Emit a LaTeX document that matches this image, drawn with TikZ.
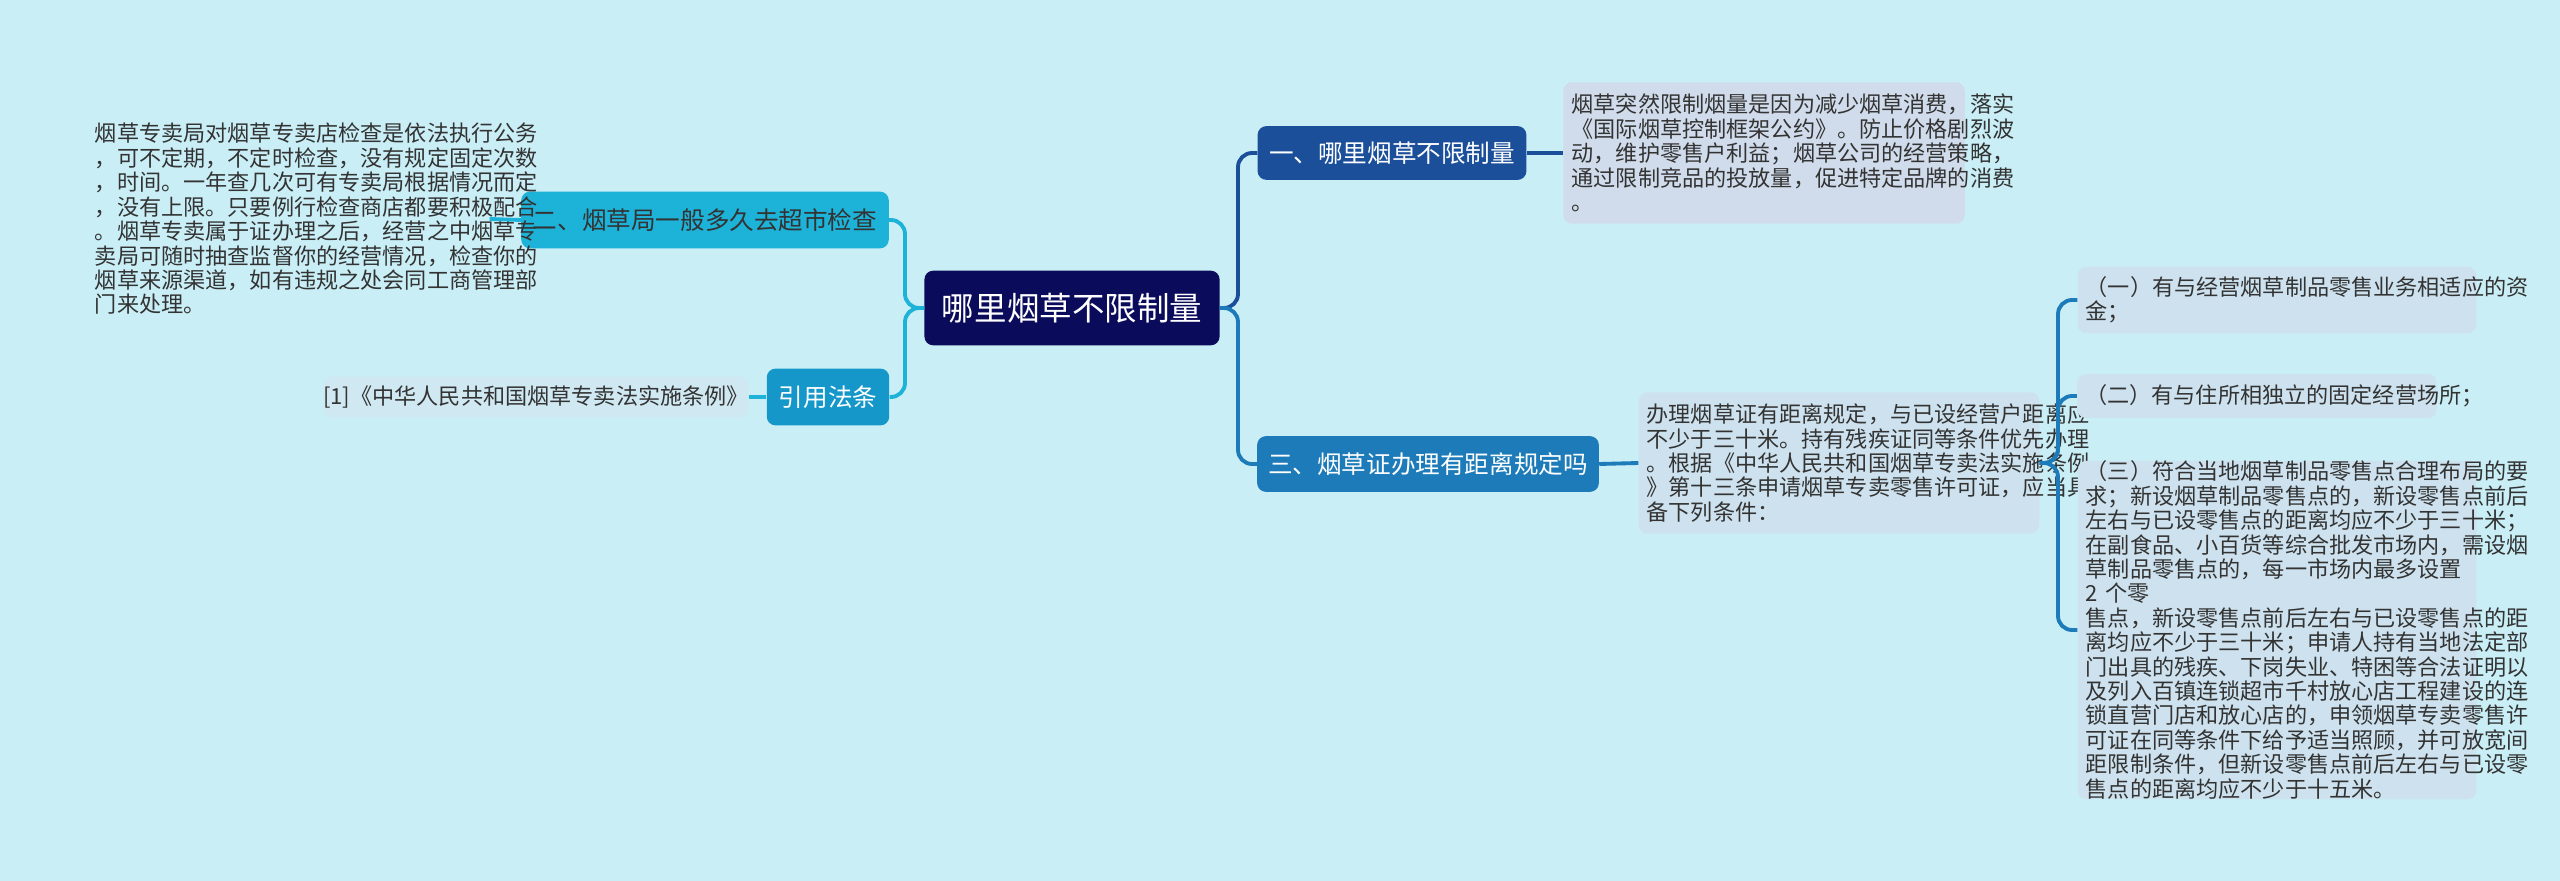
\documentclass[tikz,border=0pt]{standalone}
\usepackage{fontspec}
\setmainfont{Noto Sans CJK SC}
\usetikzlibrary{positioning}
\definecolor{bgc}{HTML}{C9EEF6}
\definecolor{rootc}{HTML}{0B0B5C}
\definecolor{darkb}{HTML}{1B4F9A}
\definecolor{midb}{HTML}{1C7BB8}
\definecolor{cyanb}{HTML}{1DB2D8}
\definecolor{refb}{HTML}{1597CA}
\definecolor{leafa}{HTML}{D0DCEB}
\definecolor{leafb}{HTML}{CDE2EE}
\definecolor{leafc}{HTML}{CFE8F2}
\definecolor{txt}{HTML}{333333}
\tikzset{
  box/.style={rectangle,rounded corners=5pt,inner sep=0pt,align=center},
  leaf/.style={box,text=txt,align=left,font=\fontsize{12.6}{13.9}\selectfont},
  link/.style={line width=2.2pt,rounded corners=8pt},
}
\begin{document}
\begin{tikzpicture}[x=0.02cm,y=-0.02cm]
    \fill[bgc] (0,0) rectangle (2560,881);
    \useasboundingbox (0,0) rectangle (2560,881);
    % centre
    \node[box,fill=rootc,text=white,minimum width=168pt,minimum height=42.5pt,font=\fontsize{18.5}{20}\selectfont] (root) at (1072,308) {哪里烟草不限制量};
    % right side
    \node[box,fill=darkb,text=white,minimum width=153pt,minimum height=30.6pt,font=\fontsize{14}{16}\selectfont] (one) at (1392,153) {一、哪里烟草不限制量};
    \node[leaf,fill=leafa,minimum width=228.5pt,minimum height=80.5pt,text width=219pt] (oneT) at (1764,153) {烟草突然限制烟量是因为减少烟草消费，落实\\《国际烟草控制框架公约》。防止价格剧烈波\\动，维护零售户利益；烟草公司的经营策略，\\通过限制竞品的投放量，促进特定品牌的消费\\。};
    \node[box,fill=midb,text=white,minimum width=194.5pt,minimum height=31.7pt,font=\fontsize{14}{16}\selectfont] (three) at (1428,464) {三、烟草证办理有距离规定吗};
    \node[leaf,fill=leafb,minimum width=228pt,minimum height=80.5pt,text width=219pt] (threeT) at (1839,463) {办理烟草证有距离规定，与已设经营户距离应\\不少于三十米。持有残疾证同等条件优先办理\\。根据《中华人民共和国烟草专卖法实施条例\\》第十三条申请烟草专卖零售许可证，应当具\\备下列条件：};
    \node[leaf,fill=leafb,minimum width=226.8pt,minimum height=38pt,text width=217.7pt] (condA) at (2277,300) {（一）有与经营烟草制品零售业务相适应的资\\金；};
    \node[leaf,fill=leafb,minimum width=204.7pt,minimum height=25pt,text width=195.6pt] (condB) at (2257,396) {（二）有与住所相独立的固定经营场所；};
    \node[leaf,fill=leafb,minimum width=226.8pt,minimum height=192.2pt,text width=217.7pt] (condC) at (2277,630) {（三）符合当地烟草制品零售点合理布局的要\\求；新设烟草制品零售点的，新设零售点前后\\左右与已设零售点的距离均应不少于三十米；\\在副食品、小百货等综合批发市场内，需设烟\\草制品零售点的，每一市场内最多设置 2 个零\\售点，新设零售点前后左右与已设零售点的距\\离均应不少于三十米；申请人持有当地法定部\\门出具的残疾、下岗失业、特困等合法证明以\\及列入百镇连锁超市千村放心店工程建设的连\\锁直营门店和放心店的，申领烟草专卖零售许\\可证在同等条件下给予适当照顾，并可放宽间\\距限制条件，但新设零售点前后左右与已设零\\售点的距离均应不少于十五米。};
    % left side
    \node[box,fill=cyanb,text=txt,minimum width=209.2pt,minimum height=32.3pt,font=\fontsize{14}{16}\selectfont] (two) at (705,220) {二、烟草局一般多久去超市检查};
    \node[leaf,minimum width=226.8pt,minimum height=114.5pt,text width=222pt] (twoT) at (290,219) {烟草专卖局对烟草专卖店检查是依法执行公务\\，可不定期，不定时检查，没有规定固定次数\\，时间。一年查几次可有专卖局根据情况而定\\，没有上限。只要例行检查商店都要积极配合\\。烟草专卖属于证办理之后，经营之中烟草专\\卖局可随时抽查监督你的经营情况，检查你的\\烟草来源渠道，如有违规之处会同工商管理部\\门来处理。};
    \node[box,fill=refb,text=white,minimum width=69.7pt,minimum height=32.3pt,font=\fontsize{14}{16}\selectfont] (cite) at (828,397) {引用法条};
    \node[leaf,fill=leafc,align=center,minimum width=219.4pt,minimum height=23.2pt] (citeT) at (536,397) {[1]《中华人民共和国烟草专卖法实施条例》};
    % connectors
    \draw[link,darkb] (root.east) -- (1238,308) |- (one.west);
    \draw[link,midb] (root.east) -- (1238,308) |- (three.west);
    \draw[link,darkb] (one.east) -- (oneT.west);
    \draw[link,midb] (three.east) -- (threeT.west);
    \foreach \c in {condA,condB,condC}
        \draw[link,midb] (threeT.east) -- (2058,463) |- (\c.west);
    \draw[link,cyanb] (root.west) -- (905,308) |- (two.east);
    \draw[link,cyanb] (root.west) -- (905,308) |- (cite.east);
    \draw[link,cyanb] (two.west) -- (twoT.east);
    \draw[link,cyanb] (cite.west) -- (citeT.east);
\end{tikzpicture}
\end{document}
